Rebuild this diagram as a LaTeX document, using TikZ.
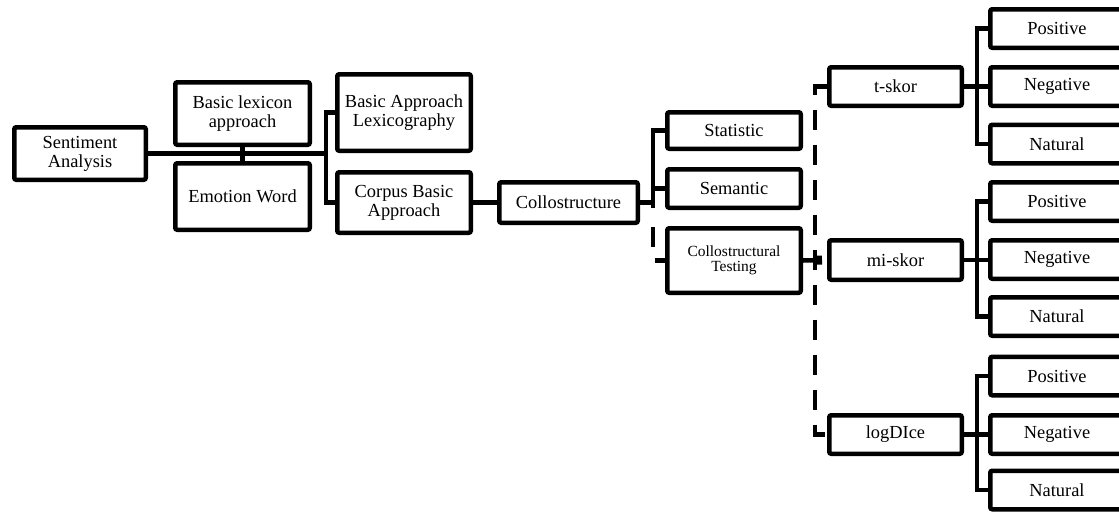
\documentclass[tikz,border=0pt]{standalone}
\usepackage{fontspec}
\setmainfont{Liberation Serif}
\usetikzlibrary{arrows.meta}
\begin{document}
\begin{tikzpicture}[x=1pt,y=-1pt,
  box/.style={draw=black, line width=4.5pt, rounded corners=2pt, inner sep=0pt,
    align=center, fill=white, font=\fontsize{18.4}{19}\selectfont},
  smallbox/.style={box, font=\fontsize{15.5}{15.5}\selectfont},
  leaf/.style={box, minimum width=133.5pt, minimum height=38.5pt},
  conn/.style={line width=4.5pt},
  dconn/.style={line width=4.5pt, dash pattern=on 20pt off 15pt}]
\useasboundingbox (0,0) rectangle (1119,512);
\clip (0,0) rectangle (1119,512);

% left part
\node[box, minimum width=131.5pt, minimum height=52.5pt] (sa) at (80,153.5) {Sentiment\\Analysis};
\node[box, minimum width=134.5pt, minimum height=62.5pt] (bl) at (242.5,113.5) {Basic lexicon\\approach};
\node[box, minimum width=134.5pt, minimum height=66.5pt] (ew) at (242.5,196.5) {Emotion Word};
\node[box, minimum width=133.5pt, minimum height=76.5pt] (bal) at (404,112.5) {Basic Approach\\Lexicography};
\node[box, minimum width=133.5pt, minimum height=60.5pt] (cba) at (404,202.5) {Corpus Basic\\Approach};
\node[box, minimum width=138.5pt, minimum height=40.5pt] (coll) at (568.5,202.5) {Collostructure};
\node[box, minimum width=133.5pt, minimum height=36.5pt] (stat) at (734,130.5) {Statistic};
\node[box, minimum width=133.5pt, minimum height=38.5pt] (sem) at (734,188.5) {Semantic};
\node[smallbox, minimum width=133.5pt, minimum height=64.5pt] (ct) at (734,260.5) {Collostructural\\Testing};

% middle measures
\node[box, minimum width=132.5pt, minimum height=38.5pt] (tskor) at (895.5,86.5) {t-skor};
\node[box, minimum width=132.5pt, minimum height=39.5pt] (miskor) at (895.5,260) {mi-skor};
\node[box, minimum width=132.5pt, minimum height=38.5pt] (logdice) at (895.5,434.5) {logDIce};

% leaves
\node[leaf] (tpos) at (1057,28.5) {Positive};
\node[leaf] (tneg) at (1057,86.5) {Negative};
\node[leaf] (tnat) at (1057,144) {Natural};
\node[leaf] (mpos) at (1057,201.5) {Positive};
\node[leaf] (mneg) at (1057,259.5) {Negative};
\node[leaf] (mnat) at (1057,316.5) {Natural};
\node[leaf] (lpos) at (1057,376) {Positive};
\node[leaf] (lneg) at (1057,434.5) {Negative};
\node[leaf] (lnat) at (1057,490) {Natural};

% junction coordinates
\coordinate (j1) at (326,153.5);
\coordinate (j2) at (653,202.5);
\coordinate (j2b) at (653,208);
\coordinate (j2c) at (653,227);

% connectors left
\draw[conn] (sa.east) -- (j1);
\draw[conn] (bl.south) -- (ew.north);
\draw[conn] (bal.west) -- ++(-9,0) |- (cba.west);
\draw[conn] (cba.east) -- (coll.west);
\draw[conn] (coll.east) -- (j2);
\draw[conn] (stat.west) -- ++(-12,0) -- (j2b);
\draw[conn] (sem.west) -- (sem.west -| j2);
\draw[dconn] (j2c) |- (ct.west);

% dashed spine on right
\draw[dconn] (tskor.west) -- ++(-12,0) |- (logdice.west);
\draw[conn, -{Rectangle[length=7pt,width=9pt]}] (ct.east) -- ([xshift=-5pt]miskor.west);

% leaf brackets
\draw[conn] (tskor.east) -- (tneg.west);
\draw[conn] (tpos.west) -- ++(-11,0) |- (tnat.west);
\draw[conn] (miskor.east) -- (miskor.east -| mneg.west);
\draw[conn] (mpos.west) -- ++(-11,0) |- (mnat.west);
\draw[conn] (logdice.east) -- (lneg.west);
\draw[conn] (lpos.west) -- ++(-11,0) |- (lnat.west);
\end{tikzpicture}
\end{document}
